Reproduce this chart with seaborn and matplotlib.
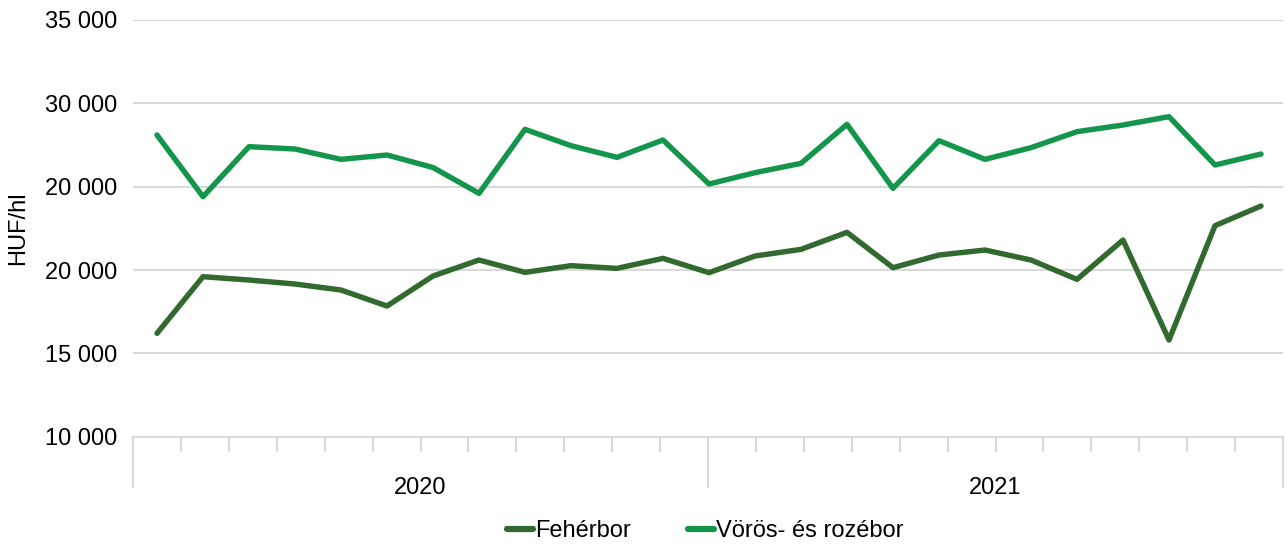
import numpy as np
import pandas as pd
import seaborn as sns
import matplotlib.pyplot as plt

# data (HUF/hl, monthly points)
feher = [16200, 19600, 19400, 19160, 18800, 17840, 19640, 20600, 19860, 20260,
         20100, 20700, 19840, 20840, 21240, 22260, 20140, 20900, 21200, 20600,
         19440, 21800, 15800, 22660, 23840]
voros = [28100, 24400, 27400, 27260, 26640, 26900, 26150, 24600, 28440, 27460,
         26760, 27800, 25160, 25840, 26400, 28740, 24900, 27760, 26640, 27340,
         28300, 28700, 29200, 26300, 26960]
series_names = ['Fehérbor', 'Vörös- és rozébor']
series_colors = ['#31692F', '#13964B']
years = ['2020', '2021']
months_per_year = 12
y_ticks = [10000, 15000, 20000, 25000, 30000, 35000]
y_labels = ['10 000', '15 000', '20 000', '20 000', '30 000', '35 000']

sns.set_style('white', {'xtick.bottom': True, 'text.color': 'black',
                        'axes.labelcolor': 'black', 'xtick.color': 'black', 'ytick.color': 'black'})
plt.rcParams['font.family'] = ['Liberation Sans', 'DejaVu Sans']

df = pd.DataFrame({'idx': np.arange(len(feher)), series_names[0]: feher, series_names[1]: voros})
df = df.melt(id_vars='idx', var_name='sorozat', value_name='ertek')

fig = plt.figure(figsize=(12.87, 5.49), dpi=100)
ax = fig.add_axes([133 / 1287, 1 - 436.7 / 549, 1150 / 1287, (436.7 - 20) / 549])

sns.lineplot(data=df, x='idx', y='ertek', hue='sorozat', palette=series_colors,
             linewidth=3.9, ax=ax, legend=False)

x0 = -24 / 46
x1 = x0 + 1150 / 46
ax.set_xlim(x0, x1)
ax.set_ylim(10000, 35000)

# y axis
ax.set_yticks(y_ticks)
ax.set_yticklabels(y_labels, fontsize=17, color='black')
ax.tick_params(axis='y', length=0, pad=11)
ax.yaxis.grid(True, color='#D9D9D9', linewidth=1.5)
ax.set_axisbelow(True)
ax.set_ylabel('HUF/hl', fontsize=17, labelpad=12, color='black')
ax.set_xlabel('')

for s in ['top', 'right', 'left']:
    ax.spines[s].set_visible(False)
ax.spines['bottom'].set_color('#D9D9D9')
ax.spines['bottom'].set_linewidth(1.5)

# category ticks: month boundaries and year boundaries
n_cat = months_per_year * len(years)
bounds = np.linspace(x0, x1, n_cat + 1)
major = bounds[::months_per_year]
minor = [b for i, b in enumerate(bounds) if i % months_per_year != 0]
ax.set_xticks(major)
ax.set_xticks(minor, minor=True)
ax.set_xticklabels([])
ax.tick_params(axis='x', which='both', bottom=True)
ax.tick_params(axis='x', which='major', length=37, width=1.5, color='#D9D9D9', direction='out')
ax.tick_params(axis='x', which='minor', length=11, width=1.5, color='#D9D9D9', direction='out')

for i, yr in enumerate(years):
    xc = (major[i] + major[i + 1]) / 2
    ax.text(xc, -0.122, yr, transform=ax.get_xaxis_transform(), ha='center', va='center',
            fontsize=17, color='black')

handles = [plt.Line2D([], [], color=c, linewidth=4.5, solid_capstyle='round') for c in series_colors]
leg = fig.legend(handles, series_names, loc='center', bbox_to_anchor=(0.548, 0.033), ncol=2,
                 frameon=False, fontsize=17, handlelength=1.1, handletextpad=0.1, columnspacing=2.4)
for t in leg.get_texts():
    t.set_color('black')

plt.savefig('out.png', dpi=100)
